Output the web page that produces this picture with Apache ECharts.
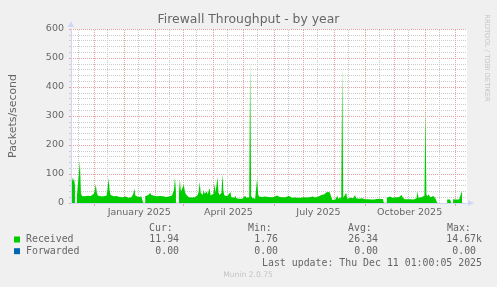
<!DOCTYPE html>
<html><head><meta charset="utf-8">
<script src="https://cdn.jsdelivr.net/npm/echarts@6/dist/echarts.min.js"></script>
<style>html,body{margin:0;padding:0;background:#F0F0F0;}#c{width:497px;height:287px;}</style>
</head><body><div id="c"></div>
<script>
// ---------- data ----------
const titleText = 'Firewall Throughput - by year';
const yAxisName = 'Packets/second';
const startDateUTC = [2024, 10, 8];   // first day on the axis (Nov 8 2024)
const dayCount = 401;
const xLabelDates = ['2025-01-16', '2025-04-16', '2025-07-16', '2025-10-16'];
const xLabelTexts = ['January 2025', 'April 2025', 'July 2025', 'October 2025'];
const quarterTickDates = ['2024-12-01', '2025-03-01', '2025-06-01', '2025-09-01', '2025-12-01'];
const yMin = 0, yMax = 600, yStep = 100;

const receivedValues = [
  140, 90, 75, 85, 60, null, 24, 26, 30, 145,
  35, 24, 22, 25, 23, 24, 22, 25, 24, 23,
  24, 26, 28, 32, 42, 65, 38, 26, 24, 22,
  23, 22, 24, 23, 22, 24, 26, 50, 85, 45,
  28, 24, 22, 23, 21, 22, 24, 22, 20, 21,
  16, 18, 20, 15, 19, 22, 24, 21, 18, 20,
  22, 20, 24, 32, 50, 26, 22, 20, 21, 22,
  20, 22, 21, 20, null, 24, 26, 25, 27, 28,
  35, 28, 26, 24, 25, 27, 24, 23, 25, 26,
  24, 22, 25, 23, 24, 22, 21, 23, 24, 22,
  24, 23, 26, 30, 45, 88, 40, null, null, 35,
  80, 40, 35, 45, 63, 40, 30, 25, 35, 20,
  18, 17, 19, 16, 18, 20, 18, 22, 28, 40,
  73, 35, 30, 28, 45, 32, 35, 40, 30, 28,
  52, 26, 24, 28, 32, 66, 35, 40, 90, 35,
  28, 25, 35, 100, 40, 26, 25, 28, 24, 26,
  30, 38, 20, 16, 15, 18, 25, 16, 15, 14,
  15, 16, 14, 15, 17, 20, 25, 18, 16, 20,
  20, 485, 25, 18, 16, 17, 15, 20, 85, 30,
  22, 20, 24, 21, 23, 20, 22, 25, 23, 21,
  22, 24, 20, 23, 22, 21, 24, 20, 26, 22,
  20, 21, 18, 22, 20, 19, 21, 20, 18, 22,
  25, 24, 20, 18, 20, 22, 19, 21, 20, 18,
  20, 22, 18, 19, 21, 20, 18, 17, 19, 20,
  18, 20, 22, 23, 22, 20, 18, 19, 21, 20,
  22, 24, 25, 28, 30, 32, 30, 35, 37, 38,
  36, 38, 30, 20, 10, 9, 10, 12, 10, 25,
  15, 14, 16, 20, 475, 18, 15, 16, 35, 15,
  14, 16, 18, 17, 15, 16, 18, 28, 16, 15,
  14, 15, 13, 14, 16, 15, 14, 13, 15, 14,
  13, 15, 14, 12, 13, 14, 12, 13, 15, 14,
  13, 12, 14, 13, 15, 14, 14, null, null, 18,
  20, 18, 22, 25, 20, 18, 22, 19, 20, 18,
  24, 20, 26, 22, 28, 20, 15, 13, 14, 12,
  13, 14, 12, 13, 15, 14, 12, 13, 14, 16,
  40, 18, 15, 18, 20, 16, 18, 25, 325, 30,
  22, 30, 25, 20, 18, 20, 24, 18, 16, 15,
  14, null, null, null, null, null, null, null, null, null,
  12, 12, 12, 12, 12, null, 13, 12, 13, 12,
  12, 13, 12, 13, 14, 42, null, null, null, null,
  null
];

const forwardedValues = [
  0, 0, 0, 0, 0, null, 0, 0, 0, 0,
  0, 0, 0, 0, 0, 0, 0, 0, 0, 0,
  0, 0, 0, 0, 0, 0, 0, 0, 0, 0,
  0, 0, 0, 0, 0, 0, 0, 0, 0, 0,
  0, 0, 0, 0, 0, 0, 0, 0, 0, 0,
  0, 0, 0, 0, 0, 0, 0, 0, 0, 0,
  0, 0, 0, 0, 0, 0, 0, 0, 0, 0,
  0, 0, 0, 0, null, 0, 0, 0, 0, 0,
  0, 0, 0, 0, 0, 0, 0, 0, 0, 0,
  0, 0, 0, 0, 0, 0, 0, 0, 0, 0,
  0, 0, 0, 0, 0, 0, 0, null, null, 0,
  0, 0, 0, 0, 0, 0, 0, 0, 0, 0,
  0, 0, 0, 0, 0, 0, 0, 0, 0, 0,
  0, 0, 0, 0, 0, 0, 0, 0, 0, 0,
  0, 0, 0, 0, 0, 0, 0, 0, 0, 0,
  0, 0, 0, 0, 0, 0, 0, 0, 0, 0,
  0, 0, 0, 0, 0, 0, 0, 0, 0, 0,
  0, 0, 0, 0, 0, 0, 0, 0, 0, 0,
  0, 0, 0, 0, 0, 0, 0, 0, 0, 0,
  0, 0, 0, 0, 0, 0, 0, 0, 0, 0,
  0, 0, 0, 0, 0, 0, 0, 0, 0, 0,
  0, 0, 0, 0, 0, 0, 0, 0, 0, 0,
  0, 0, 0, 0, 0, 0, 0, 0, 0, 0,
  0, 0, 0, 0, 0, 0, 0, 0, 0, 0,
  0, 0, 0, 0, 0, 0, 0, 0, 0, 0,
  0, 0, 0, 0, 0, 0, 0, 0, 0, 0,
  0, 0, 0, 0, 0, 0, 0, 0, 0, 0,
  0, 0, 0, 0, 0, 0, 0, 0, 0, 0,
  0, 0, 0, 0, 0, 0, 0, 0, 0, 0,
  0, 0, 0, 0, 0, 0, 0, 0, 0, 0,
  0, 0, 0, 0, 0, 0, 0, 0, 0, 0,
  0, 0, 0, 0, 0, 0, 0, null, null, 0,
  0, 0, 0, 0, 0, 0, 0, 0, 0, 0,
  0, 0, 0, 0, 0, 0, 0, 0, 0, 0,
  0, 0, 0, 0, 0, 0, 0, 0, 0, 0,
  0, 0, 0, 0, 0, 0, 0, 0, 0, 0,
  0, 0, 0, 0, 0, 0, 0, 0, 0, 0,
  0, null, null, null, null, null, null, null, null, null,
  0, 0, 0, 0, 0, null, 0, 0, 0, 0,
  0, 0, 0, 0, 0, 0, null, null, null, null,
  null
];

const legendNames = ['Received', 'Forwarded'];
const legendColors = ['#00CC00', '#0066B3'];
const statHeaders = ['Cur:', 'Min:', 'Avg:', 'Max:'];
const curVals = ['11.94', '0.00'];
const minVals = ['1.76', '0.00'];
const avgVals = ['26.34', '0.00'];
const maxVals = ['14.67k', '0.00'];
const lastUpdateText = 'Last update: Thu Dec 11 01:00:05 2025';
const versionText = 'Munin 2.0.75';
const watermarkText = 'RRDTOOL / TOBI OETIKER';

// ---------- build ----------
const days = [];
const t0 = Date.UTC(startDateUTC[0], startDateUTC[1], startDateUTC[2]);
for (let i = 0; i < dayCount; i++) days.push(new Date(t0 + i * 86400000).toISOString().slice(0, 10));

const FONT = '"DejaVu Sans", sans-serif';
const MONO = '"DejaVu Sans Mono", monospace';
const TXT = '#666666';
const MGRID = '#EBA0A0';
const GRID = '#CACACA';
const AXIS = '#CFD6F8';

// vertical grid: month starts (major, red) and mid-month (minor, grey)
const vGrid = [];
days.forEach(d => {
  if (d.endsWith('-01')) vGrid.push({ xAxis: d, lineStyle: { color: MGRID, type: [1, 1], width: 1 } });
  else if (d.endsWith('-15')) vGrid.push({ xAxis: d, lineStyle: { color: GRID, type: [1, 1], width: 1 } });
});

function txt(x, y, s, opts) {
  opts = opts || {};
  const a = opts.align || 'left';
  return {
    type: 'text', x: x, y: y, rotation: opts.rotation || 0, silent: true,
    style: {
      text: s, fill: opts.fill || TXT, font: opts.font || ('9.9px ' + MONO),
      align: a, verticalAlign: 'middle', textAlign: a, textVerticalAlign: 'middle'
    }
  };
}

const graphics = [];
const headerX = [149, 248, 348, 447];
statHeaders.forEach((h, k) => graphics.push(txt(headerX[k], 228, h)));
const rowY = [239.5, 251.2];
const colRight = [185, 284, 384, 482];
legendNames.forEach((n, r) => {
  graphics.push({ type: 'rect', silent: true, shape: { x: 14, y: rowY[r] - 3, width: 6, height: 6 }, style: { fill: legendColors[r] } });
  graphics.push(txt(26, rowY[r], n));
  [curVals, minVals, avgVals, maxVals].forEach((vals, k) => {
    const v = vals[r];
    const s = /[a-zA-Z]$/.test(v) ? v : v + ' ';
    graphics.push(txt(colRight[k], rowY[r], s, { align: 'right' }));
  });
});
graphics.push(txt(482, 263.3, lastUpdateText, { align: 'right' }));
graphics.push(txt(248, 275.5, versionText, { align: 'center', font: '7.6px ' + FONT, fill: '#C4C4C4' }));
graphics.push(txt(487, 58, watermarkText, { align: 'center', font: '6.8px ' + FONT, fill: '#C4C4C4', rotation: -Math.PI / 2 }));

const chart = echarts.init(document.getElementById('c'), null, { renderer: 'canvas' });
chart.setOption({
  animation: false,
  backgroundColor: '#F0F0F0',
  title: {
    text: titleText, left: 'center', top: 14, padding: 0,
    textStyle: { color: TXT, fontSize: 12.4, fontWeight: 'normal', fontFamily: FONT }
  },
  grid: { left: 67, top: 29, width: 400, height: 174, show: true, backgroundColor: '#FFFFFF', borderWidth: 0 },
  xAxis: [
    {
      type: 'category', data: days, boundaryGap: false,
      axisLine: { show: false },
      axisTick: { show: true, interval: (i, v) => quarterTickDates.indexOf(v) >= 0, length: 3, lineStyle: { color: MGRID } },
      axisLabel: {
        interval: (i, v) => xLabelDates.indexOf(v) >= 0,
        formatter: (v) => xLabelTexts[xLabelDates.indexOf(v)] || '',
        color: TXT, fontSize: 9.5, fontFamily: FONT, margin: 5
      },
      splitLine: { show: false }
    },
    {
      type: 'category', data: days, boundaryGap: false, position: 'bottom', z: 5,
      axisLine: { show: true, onZero: false, lineStyle: { color: AXIS, width: 1 }, symbol: ['none', 'triangle'], symbolSize: [6, 6], symbolOffset: [0, 4] },
      axisTick: { show: false }, axisLabel: { show: false }, splitLine: { show: false }
    }
  ],
  yAxis: [
    {
      type: 'value', min: yMin, max: yMax, interval: yStep,
      axisLine: { show: false },
      axisTick: { show: true, length: 2, lineStyle: { color: MGRID } },
      minorTick: { show: true, splitNumber: 5, length: 2, lineStyle: { color: GRID } },
      minorSplitLine: { show: true, lineStyle: { color: GRID, type: [1, 1], width: 1 } },
      splitLine: { show: true, lineStyle: { color: MGRID, type: [1, 1], width: 1 } },
      axisLabel: { color: TXT, fontSize: 9.5, fontFamily: FONT, margin: 7 },
      name: yAxisName, nameLocation: 'middle', nameRotate: 90, nameGap: 52,
      nameTextStyle: { color: TXT, fontSize: 10.9, fontFamily: FONT }
    },
    {
      type: 'value', min: yMin, max: yMax, interval: yStep, position: 'left', z: 5,
      axisLine: { show: true, lineStyle: { color: AXIS, width: 1 }, symbol: ['none', 'triangle'], symbolSize: [6, 6], symbolOffset: [0, 5] },
      axisTick: { show: false }, axisLabel: { show: false }, splitLine: { show: false }
    }
  ],
  series: [
    {
      name: legendNames[0], type: 'line', data: receivedValues, xAxisIndex: 0, yAxisIndex: 0,
      symbol: 'none', showSymbol: false, connectNulls: false, z: 2,
      lineStyle: { width: 0, color: legendColors[0] }, itemStyle: { color: legendColors[0] },
      areaStyle: { color: legendColors[0], opacity: 1 }
    },
    {
      name: legendNames[1], type: 'line', data: forwardedValues, xAxisIndex: 0, yAxisIndex: 0,
      symbol: 'none', showSymbol: false, z: 1,
      lineStyle: { width: 1, color: legendColors[1] }, itemStyle: { color: legendColors[1] },
      markLine: {
        silent: true, z: 1, animation: false, symbol: ['none', 'none'],
        label: { show: false }, emphasis: { disabled: true },
        data: vGrid
      }
    }
  ],
  graphic: { elements: graphics }
});
</script>
</body></html>
